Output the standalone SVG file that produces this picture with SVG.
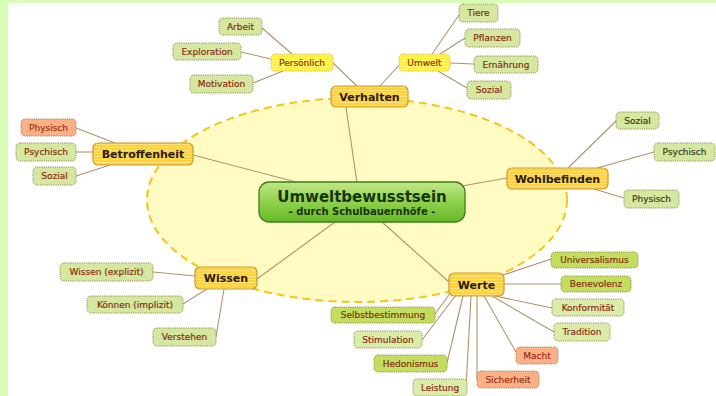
<svg xmlns="http://www.w3.org/2000/svg" width="716" height="396" viewBox="0 0 716 396">
<defs>
<pattern id="stripeGold" width="4" height="3" patternUnits="userSpaceOnUse">
<rect width="4" height="3" fill="#fdd23c"/>
<rect width="4" height="1" fill="#fde07a"/>
</pattern>
<pattern id="stripeYel" width="4" height="3" patternUnits="userSpaceOnUse">
<rect width="4" height="3" fill="#fff03a"/>
<rect width="4" height="1" fill="#fff57e"/>
</pattern>
<linearGradient id="gCentral" x1="0" y1="0" x2="0" y2="1">
<stop offset="0" stop-color="#c2e887"/>
<stop offset="0.5" stop-color="#8fd04c"/>
<stop offset="1" stop-color="#66b82a"/>
</linearGradient>
<style>
.bg{fill:#ffffff}
.strip{fill:#d8fbb6}
.conn line{stroke:#b4926a;stroke-width:1.1;fill:none}
.main rect{fill:url(#stripeGold);stroke:#c99a35;stroke-width:1.2}
.main text{font-family:"DejaVu Sans",Verdana,sans-serif;font-weight:bold;font-size:11px;fill:#2a1a08;text-anchor:middle}
.sub rect{fill:url(#stripeYel);stroke:#d8b94a;stroke-width:1;stroke-dasharray:1.2 1}
.sub text{font-family:"DejaVu Sans",Verdana,sans-serif;font-size:9px;fill:#8c3a12;text-anchor:middle;stroke:#8c3a12;stroke-width:0.2}
.leaf rect{fill:#d5e89f;stroke:#9c8a62;stroke-width:1;stroke-dasharray:1.2 1}
.leaf.dark rect{fill:#c2de5e}
.leaf.lite rect{fill:#daeda8}
.leaf.orange rect{fill:#fdb083}
.leaf text{font-family:"DejaVu Sans",Verdana,sans-serif;font-size:9px;fill:#8a2e16;text-anchor:middle;stroke:#8a2e16;stroke-width:0.2}
.leaf.gray text{fill:#3d3a22;stroke:#3d3a22}
.leaf.orange text{fill:#a0301a;stroke:#a0301a}
</style>
</defs>
<rect class="bg" x="0" y="0" width="716" height="396"/>
<rect class="strip" x="0" y="0" width="716" height="3"/>
<rect class="strip" x="0" y="0" width="8" height="396"/>
<ellipse cx="357" cy="200" rx="210" ry="102" fill="#fffbc2" stroke="#f5c518" stroke-width="2" stroke-dasharray="8 5"/>
<g id="connectors" class="conn">
<line x1="357" y1="183" x2="346" y2="107"/>
<line x1="300" y1="183" x2="193" y2="155"/>
<line x1="462" y1="186" x2="507" y2="178"/>
<line x1="335" y1="222" x2="257" y2="279"/>
<line x1="382" y1="222" x2="449" y2="282"/>
<line x1="333" y1="63" x2="358" y2="87"/>
<line x1="380" y1="86" x2="400" y2="64"/>
<line x1="262" y1="28" x2="292" y2="54"/>
<line x1="241" y1="52" x2="271" y2="59"/>
<line x1="253" y1="83" x2="283" y2="71"/>
<line x1="432" y1="54" x2="459" y2="15"/>
<line x1="440" y1="54" x2="465" y2="38"/>
<line x1="450" y1="63" x2="474" y2="64"/>
<line x1="438" y1="71" x2="467" y2="88"/>
<line x1="76" y1="128" x2="115" y2="143"/>
<line x1="76" y1="152" x2="93" y2="152"/>
<line x1="76" y1="176" x2="110" y2="165"/>
<line x1="568" y1="168" x2="616" y2="121"/>
<line x1="597" y1="168" x2="654" y2="152"/>
<line x1="594" y1="189" x2="624" y2="198"/>
<line x1="153" y1="272" x2="195" y2="276"/>
<line x1="183" y1="304" x2="207" y2="289"/>
<line x1="216" y1="337" x2="224" y2="289"/>
<line x1="503" y1="275" x2="551" y2="259"/>
<line x1="504" y1="284" x2="561" y2="284"/>
<line x1="495" y1="296" x2="552" y2="308"/>
<line x1="492" y1="296" x2="554" y2="332"/>
<line x1="484" y1="296" x2="516" y2="352"/>
<line x1="477" y1="296" x2="477" y2="380"/>
<line x1="471" y1="296" x2="466" y2="388"/>
<line x1="463" y1="296" x2="447" y2="363"/>
<line x1="456" y1="295" x2="422" y2="340"/>
<line x1="451" y1="292" x2="435" y2="314"/>
</g>
<g id="central">
<rect x="259" y="182" width="206" height="40" rx="10" fill="url(#gCentral)" stroke="#3f7d1d" stroke-width="1.3"/>
<text x="362" y="202" font-family="'DejaVu Sans',Verdana,sans-serif" font-weight="bold" font-size="15" fill="#16340c" text-anchor="middle">Umweltbewusstsein</text>
<text x="362" y="215" font-family="'DejaVu Sans',Verdana,sans-serif" font-weight="bold" font-size="10" fill="#16340c" text-anchor="middle">- durch Schulbauernhöfe -</text>
</g>
<g id="verhalten" class="main"><rect x="331" y="86" width="77" height="21" rx="5"/><text x="369.5" y="100.5">Verhalten</text></g>
<g id="betroffenheit" class="main"><rect x="93" y="143" width="100" height="22" rx="5"/><text x="143" y="158">Betroffenheit</text></g>
<g id="wohlbefinden" class="main"><rect x="507" y="168" width="101" height="21" rx="5"/><text x="557.5" y="182.5">Wohlbefinden</text></g>
<g id="wissen" class="main"><rect x="195" y="267" width="62" height="22" rx="5"/><text x="226" y="282">Wissen</text></g>
<g id="werte" class="main"><rect x="449" y="273" width="55" height="23" rx="5"/><text x="476.5" y="288.5">Werte</text></g>
<g id="persoenlich" class="sub"><rect x="271" y="54" width="62" height="17" rx="4"/><text x="302" y="65.5">Persönlich</text></g>
<g id="umwelt" class="sub"><rect x="399" y="54" width="51" height="17" rx="4"/><text x="424.5" y="65.5">Umwelt</text></g>
<g id="arbeit" class="leaf"><rect x="219" y="18" width="43" height="17" rx="4"/><text x="240.5" y="29.5">Arbeit</text></g>
<g id="exploration" class="leaf"><rect x="173" y="43" width="68" height="17" rx="4"/><text x="207" y="54.5">Exploration</text></g>
<g id="motivation" class="leaf"><rect x="190" y="75" width="63" height="18" rx="4"/><text x="221.5" y="87">Motivation</text></g>
<g id="tiere" class="leaf"><rect x="459" y="4" width="39" height="18" rx="4"/><text x="478.5" y="16">Tiere</text></g>
<g id="pflanzen" class="leaf"><rect x="465" y="29" width="55" height="18" rx="4"/><text x="492.5" y="41">Pflanzen</text></g>
<g id="ernaehrung" class="leaf"><rect x="474" y="56" width="64" height="17" rx="4"/><text x="506" y="67.5">Ernährung</text></g>
<g id="sozial-umwelt" class="leaf"><rect x="467" y="81" width="44" height="18" rx="4"/><text x="489" y="93">Sozial</text></g>
<g id="physisch-b" class="leaf orange"><rect x="21" y="119" width="55" height="17" rx="4"/><text x="48.5" y="130.5">Physisch</text></g>
<g id="psychisch-b" class="leaf"><rect x="16" y="143" width="60" height="18" rx="4"/><text x="46" y="155">Psychisch</text></g>
<g id="sozial-b" class="leaf"><rect x="33" y="167" width="43" height="18" rx="4"/><text x="54.5" y="179">Sozial</text></g>
<g id="sozial-w" class="leaf gray"><rect x="616" y="112" width="43" height="17" rx="4"/><text x="637.5" y="123.5">Sozial</text></g>
<g id="psychisch-w" class="leaf gray"><rect x="654" y="143" width="61" height="18" rx="4"/><text x="684.5" y="155">Psychisch</text></g>
<g id="physisch-w" class="leaf gray"><rect x="624" y="190" width="55" height="18" rx="4"/><text x="651.5" y="202">Physisch</text></g>
<g id="wissen-explizit" class="leaf"><rect x="60" y="263" width="93" height="18" rx="4"/><text x="106.5" y="275">Wissen (explizit)</text></g>
<g id="koennen-implizit" class="leaf"><rect x="87" y="296" width="96" height="17" rx="4"/><text x="135" y="307.5">Können (implizit)</text></g>
<g id="verstehen" class="leaf"><rect x="153" y="328" width="63" height="18" rx="4"/><text x="184.5" y="340">Verstehen</text></g>
<g id="universalismus" class="leaf dark"><rect x="551" y="252" width="87" height="16" rx="4"/><text x="594.5" y="263">Universalismus</text></g>
<g id="benevolenz" class="leaf dark"><rect x="561" y="276" width="70" height="16" rx="4"/><text x="596" y="287">Benevolenz</text></g>
<g id="konformitaet" class="leaf lite"><rect x="552" y="299" width="72" height="17" rx="4"/><text x="588" y="310.5">Konformität</text></g>
<g id="tradition" class="leaf lite"><rect x="554" y="323" width="56" height="18" rx="4"/><text x="582" y="335">Tradition</text></g>
<g id="macht" class="leaf orange"><rect x="516" y="347" width="42" height="17" rx="4"/><text x="537" y="358.5">Macht</text></g>
<g id="sicherheit" class="leaf orange"><rect x="477" y="371" width="62" height="17" rx="4"/><text x="508" y="382.5">Sicherheit</text></g>
<g id="leistung" class="leaf lite"><rect x="413" y="379" width="54" height="17" rx="4"/><text x="440" y="390.5">Leistung</text></g>
<g id="hedonismus" class="leaf dark"><rect x="374" y="355" width="73" height="17" rx="4"/><text x="410.5" y="366.5">Hedonismus</text></g>
<g id="stimulation" class="leaf lite"><rect x="354" y="331" width="68" height="17" rx="4"/><text x="388" y="342.5">Stimulation</text></g>
<g id="selbstbestimmung" class="leaf dark"><rect x="331" y="307" width="104" height="16" rx="4"/><text x="383" y="318">Selbstbestimmung</text></g>
</svg>
